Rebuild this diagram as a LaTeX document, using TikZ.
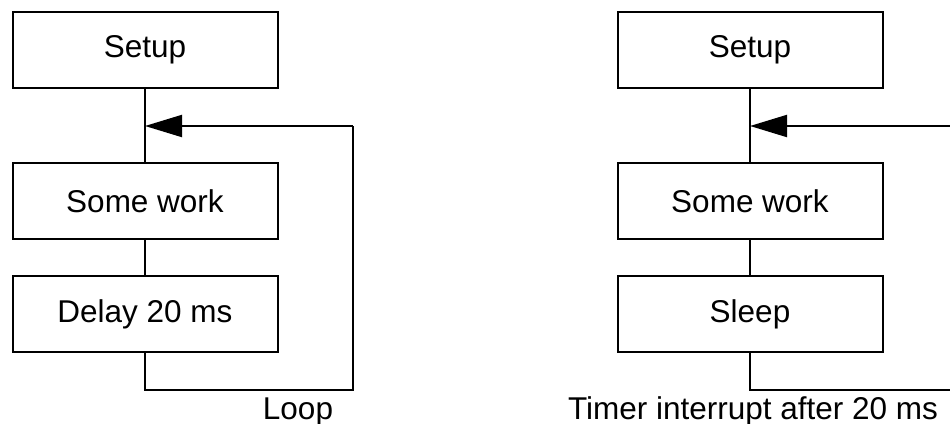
\documentclass[tikz,border=0pt]{standalone}
\usepackage{fontspec}
\setmainfont{Liberation Sans}
\usetikzlibrary{arrows.meta}
\begin{document}
\begin{tikzpicture}[x=1pt,y=-1pt,
  box/.style={draw=black,line width=2pt,minimum width=265pt,minimum height=76pt,inner sep=0pt,font=\fontsize{31.5}{38}\selectfont},
  conn/.style={draw=black,line width=2pt},
  lbl/.style={font=\fontsize{31.5}{38}\selectfont,inner sep=0pt,anchor=base},
  tip/.style={-{Triangle[length=37pt,width=22pt]}}]
\useasboundingbox (0,0) rectangle (950,423);
% left diagram
\node[box] (s1) at (145,50) {Setup};
\node[box] (w1) at (145,201) {Some work};
\node[box] (d1) at (145,314) {Delay 20 ms};
\coordinate (j1) at (145,126);
\coordinate (b1) at (145,390);
\coordinate (c1) at (353,390);
\coordinate (t1) at (353,126);
\draw[conn] (s1.south) -- (w1.north);
\draw[conn] (w1.south) -- (d1.north);
\draw[conn] (d1.south) -- (b1) -- (c1) -- (t1);
\draw[conn,tip] (t1) -- (j1);
\node[lbl] (l1) at (298,419) {Loop};
% right diagram
\node[box] (s2) at (750,50) {Setup};
\node[box] (w2) at (750,201) {Some work};
\node[box] (d2) at (750,314) {Sleep};
\coordinate (j2) at (750,126);
\coordinate (e2) at (951,126);
\coordinate (b2) at (750,390);
\coordinate (c2) at (951,390);
\draw[conn] (s2.south) -- (w2.north);
\draw[conn] (w2.south) -- (d2.north);
\draw[conn] (d2.south) -- (b2) -- (c2);
\draw[conn,tip] (e2) -- (j2);
\node[lbl] (l2) at (753,419) {Timer interrupt after 20 ms};
\end{tikzpicture}
\end{document}
